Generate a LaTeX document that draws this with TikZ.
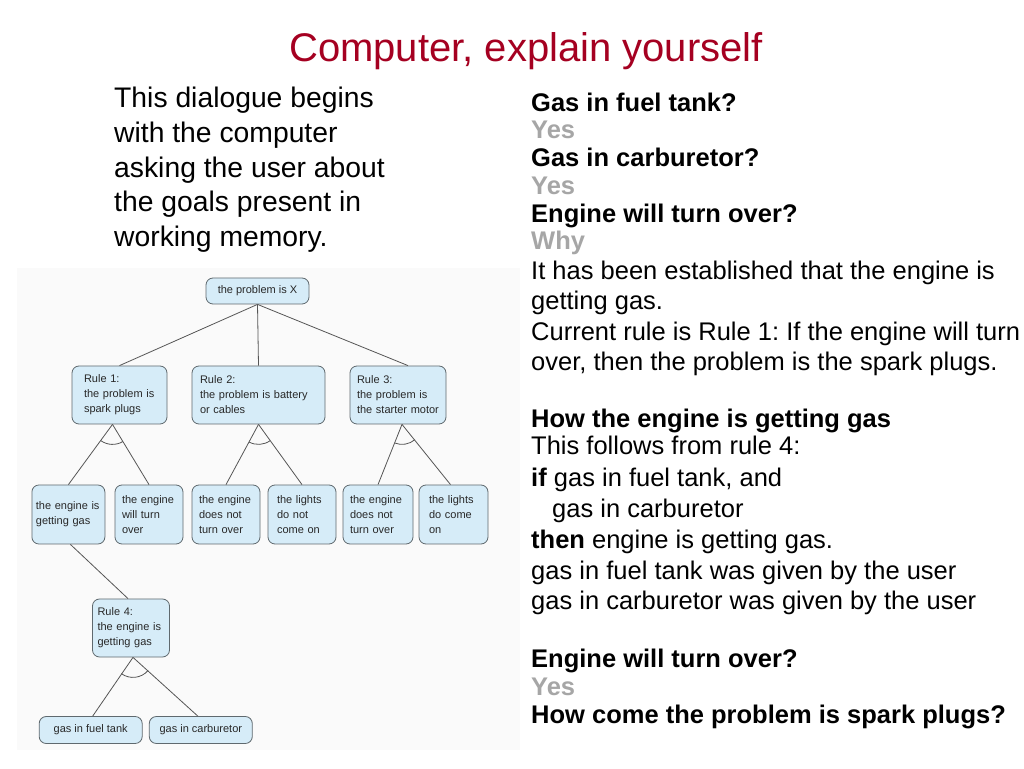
\documentclass[tikz,border=0pt]{standalone}
\usepackage{fontspec}
\setmainfont{Liberation Sans}
\usetikzlibrary{calc}
\frenchspacing
\definecolor{titlered}{RGB}{165,0,33}
\definecolor{answergray}{RGB}{166,166,166}
\definecolor{boxfill}{RGB}{214,236,248}
\definecolor{boxline}{RGB}{95,105,110}
\definecolor{linkgray}{RGB}{85,85,85}
\definecolor{boxtext}{RGB}{40,40,40}
\definecolor{figbg}{RGB}{250,250,250}
\newcommand\andarc[3]{%
  \draw[link] let \p1=($(#2)-(#1)$), \p2=($(#3)-(#1)$),
    \n1={atan2(\y1,\x1)}, \n2={atan2(\y2,\x2)} in
    ($(#1)+(\n1:20pt)$) arc[start angle=\n1, end angle=\n2, radius=20pt];}
\begin{document}
\begin{tikzpicture}[x=1pt,y=1pt,
  tbox/.style={draw=boxline, line width=0.8pt, fill=boxfill, rounded corners=7pt,
    font=\fontsize{11}{15}\selectfont, text=boxtext, align=left, inner ysep=0pt},
  link/.style={draw=linkgray, line width=0.8pt},
  title/.style={font=\fontsize{40}{48}\selectfont, text=titlered, inner sep=0pt},
  para/.style={font=\fontsize{28.3}{34}\selectfont, anchor=base west, inner sep=0pt},
  ask/.style={font=\fontsize{25.5}{30}\selectfont\bfseries, anchor=base west, inner sep=0pt},
  reply/.style={font=\fontsize{25.5}{30}\selectfont\bfseries, text=answergray, anchor=base west, inner sep=0pt},
  expl/.style={font=\fontsize{25.5}{30}\selectfont, anchor=base west, inner sep=0pt}]
\useasboundingbox (0,0) rectangle (1024,768);
\fill[white] (0,0) rectangle (1024,768);
\fill[figbg] (17,18) rectangle (520,500);

% title
\node[title, anchor=base] (ttl) at (526,706) {Computer, explain yourself};

% left paragraph
\node[para] (p1) at (114,660) {This dialogue begins};
\node[para] (p2) at (114,625) {with the computer};
\node[para] (p3) at (114,590) {asking the user about};
\node[para] (p4) at (114,556) {the goals present in};
\node[para] (p5) at (114,521) {working memory.};

% right dialogue
\node[ask]   (d1)  at (531,656) {Gas in fuel tank?};
\node[reply] (d2)  at (531,629) {Yes};
\node[ask]   (d3)  at (531,601) {Gas in carburetor?};
\node[reply] (d4)  at (531,573) {Yes};
\node[ask]   (d5)  at (531,545) {Engine will turn over?};
\node[reply] (d6)  at (531,518) {Why};
\node[expl]  (d7)  at (531,488) {It has been established that the engine is};
\node[expl]  (d8)  at (531,458) {getting gas.};
\node[expl]  (d9)  at (531,427) {Current rule is Rule 1: If the engine will turn};
\node[expl]  (d10) at (531,397) {over, then the problem is the spark plugs.};
\node[ask]   (d11) at (531,340) {How the engine is getting gas};
\node[expl]  (d12) at (531,313) {This follows from rule 4:};
\node[expl]  (d13) at (531,281) {\textbf{if} gas in fuel tank, and};
\node[expl]  (d14) at (552,250) {gas in carburetor};
\node[expl]  (d15) at (531,219) {\textbf{then} engine is getting gas.};
\node[expl]  (d16) at (531,188) {gas in fuel tank was given by the user};
\node[expl]  (d17) at (531,158) {gas in carburetor was given by the user};
\node[ask]   (d18) at (531,101) {Engine will turn over?};
\node[reply] (d19) at (531,73)  {Yes};
\node[ask]   (d20) at (531,45)  {How come the problem is spark plugs?};

% tree
\node[tbox, minimum width=103pt, minimum height=26pt, align=center] (root) at (257.5,477) {the problem is X};
\node[tbox, minimum height=58pt, inner xsep=12pt, text width=71pt] (r1) at (119.5,373) {Rule 1:\\the problem is\\spark plugs};
\node[tbox, minimum height=58pt, inner xsep=8pt, text width=117pt] (r2) at (258.5,373) {Rule 2:\\the problem is battery\\or cables};
\node[tbox, minimum height=58pt, inner xsep=7pt, text width=82pt] (r3) at (398,373) {Rule 3:\\the problem is\\the starter motor};

\node[tbox, minimum height=59pt, inner xsep=4pt, text width=65pt] (b1) at (68.4,253.5) {the engine is\\getting gas};
\node[tbox, minimum height=59pt, inner xsep=7pt, text width=54pt] (b2) at (149,253.5) {the engine\\will turn\\over};
\node[tbox, minimum height=59pt, inner xsep=7pt, text width=54pt] (b3) at (226,253.5) {the engine\\does not\\turn over};
\node[tbox, minimum height=59pt, inner xsep=9pt, text width=50pt] (b4) at (302,253.5) {the lights\\do not\\come on};
\node[tbox, minimum height=59pt, inner xsep=7pt, text width=56pt] (b5) at (378,253.5) {the engine\\does not\\turn over};
\node[tbox, minimum height=59pt, inner xsep=10pt, text width=49pt] (b6) at (453.5,253.5) {the lights\\do come\\on};

\node[tbox, minimum height=58pt, inner xsep=5pt, text width=67pt] (r4) at (131,140) {Rule 4:\\the engine is\\getting gas};
\node[tbox, minimum width=103pt, minimum height=27pt, align=center] (g1) at (90.7,38) {gas in fuel tank};
\node[tbox, minimum width=103pt, minimum height=27pt, align=center] (g2) at (200.8,38) {gas in carburetor};

% apex points
\coordinate (a1) at ([xshift=-7pt]r1.south);
\coordinate (a2) at (r2.south);
\coordinate (a3) at ([xshift=4pt]r3.south);
\coordinate (a4) at ([xshift=2pt]r4.south);

% connectors
\draw[link] (root.south) -- (r1.north);
\draw[link] (root.south) -- (r2.north);
\draw[link] (root.south) -- ([xshift=10pt]r3.north);
\draw[link] (a1) -- (b1.north);
\draw[link] (a1) -- (b2.north);
\draw[link] (a2) -- (b3.north);
\draw[link] (a2) -- (b4.north);
\draw[link] (a3) -- (b5.north);
\draw[link] (a3) -- ([xshift=-3pt]b6.north);
\draw[link] ([xshift=2pt]b1.south) -- ([xshift=-3pt]r4.north);
\draw[link] (a4) -- ([xshift=2pt]g1.north);
\draw[link] (a4) -- ([xshift=-3pt]g2.north);

% AND arcs
\andarc{a1}{b1.north}{b2.north}
\andarc{a2}{b3.north}{b4.north}
\andarc{a3}{b5.north}{b6.north}
\andarc{a4}{g1.north}{g2.north}
\end{tikzpicture}
\end{document}
